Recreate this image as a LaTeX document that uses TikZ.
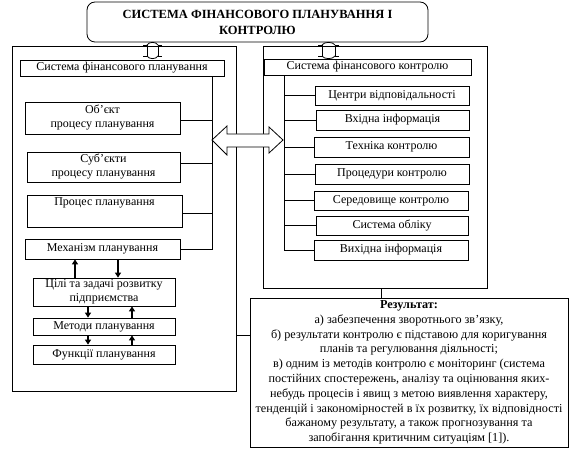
\documentclass[tikz,border=0pt]{standalone}
\usepackage{fontspec}
\setmainfont{Liberation Serif}
\usetikzlibrary{arrows.meta}
\begin{document}
\begin{tikzpicture}[x=1pt,y=-1pt,line width=0.8pt,
  txt/.style={font=\fontsize{12}{14}\selectfont},
  box/.style={draw,rectangle,inner sep=0pt,align=center,txt},
  arr/.style={line width=1.4pt,-{Triangle[length=5pt,width=6pt,fill=black]}},
  blk/.style={draw,fill=white,line join=miter}]
\useasboundingbox (0,0) rectangle (573,457);
% title
\node[box,minimum width=341pt,minimum height=40pt,rounded corners=8pt,
  font=\bfseries\fontsize{12.5}{16}\selectfont] (title) at (257.5,22)
  {СИСТЕМА ФІНАНСОВОГО ПЛАНУВАННЯ І\\КОНТРОЛЮ};
% big boxes
\node[box,minimum width=224pt,minimum height=345pt] (L) at (124,218.5) {};
\node[box,minimum width=224pt,minimum height=242pt] (R) at (375,167) {};
% left inner
\node[box,minimum width=204pt,minimum height=16pt] (lt) at (122,68) {Система фінансового планування};
\node[box,minimum width=155pt,minimum height=32pt] (obj) at (102.5,118) {Об’єкт\\процесу планування};
\node[box,minimum width=153pt,minimum height=30pt] (sub) at (103.5,167) {Суб’єкти\\процесу планування};
\node[box,minimum width=155pt,minimum height=32pt] (proc) at (104.5,211) {Процес планування\\\strut};
\node[box,minimum width=155pt,minimum height=20pt] (mech) at (102.5,249) {Механізм планування};
\node[box,minimum width=142pt,minimum height=28pt] (goal) at (104,292) {Цілі та задачі розвитку\\підприємства};
\node[box,minimum width=142pt,minimum height=17pt] (meth) at (104,326.5) {Методи планування};
\node[box,minimum width=142pt,minimum height=19pt] (func) at (104,354.5) {Функції планування};
% right inner
\node[box,minimum width=207pt,minimum height=16pt] (rt) at (367.5,67) {Система фінансового контролю};
\node[box,minimum width=154pt,minimum height=19pt] (c1) at (392,95.5) {Центри відповідальності};
\node[box,minimum width=153pt,minimum height=20pt] (c2) at (392.5,120) {Вхідна інформація};
\node[box,minimum width=155pt,minimum height=20pt] (c3) at (391.5,147) {Техніка контролю};
\node[box,minimum width=154pt,minimum height=20pt] (c4) at (392,174) {Процедури контролю};
\node[box,minimum width=154pt,minimum height=19pt] (c5) at (391,200.5) {Середовище контролю};
\node[box,minimum width=152pt,minimum height=19pt] (c6) at (392,225.5) {Система обліку};
\node[box,minimum width=154pt,minimum height=20pt] (c7) at (391,250) {Вихідна інформація};
% result
\node[box,minimum width=318pt,minimum height=149pt,font=\fontsize{12.2}{14.8}\selectfont] (res) at (409,372.5)
 {\textbf{Результат:}\\
 а) забезпечення зворотнього зв’язку,\\
 б) результати контролю є підставою для коригування\\
 планів та регулювання діяльності;\\
 в) одним із методів контролю є моніторинг (система\\
 постійних спостережень, аналізу та оцінювання яких-\\
 небудь процесів і явищ з метою виявлення характеру,\\
 тенденцій і закономірностей в їх розвитку, їх відповідності\\
 бажаному результату, а також прогнозування та\\
 запобігання критичним ситуаціям [1]).};
% left spine
\coordinate (ls) at (212,0);
\draw (lt.south -| ls) -- (mech.east -| ls) -- (mech.east);
\draw (obj.east) ++(0,2) -- ++(32,0);
\draw (sub.east) ++(0,-4) -- ++(32,0);
\draw (proc.east) ++(0,2) -- (ls |- 0,213);
% right spine
\coordinate (rs) at (284,0);
\draw (rt.south -| rs) -- (c7.west -| rs) -- (c7.west);
\foreach \n in {c1,c2,c3,c4,c5,c6} \draw (\n.west -| rs) -- (\n.west);
% result connectors
\coordinate (rc) at (381,0);
\draw (R.south -| rc) -- (res.north -| rc);
\draw (L.east |- 0,335) -- (res.west |- 0,335);
% arrows left
\draw[arr] (goal.north -| 75,0) -- (mech.south -| 75,0);
\draw[arr] (mech.south -| 118,0) -- (goal.north -| 118,0);
\draw[arr] (goal.south -| 88,0) -- (meth.north -| 88,0);
\draw[arr] (meth.north -| 132,0) -- (goal.south -| 132,0);
\draw[arr] (meth.south -| 88,0) -- (func.north -| 88,0);
\draw[arr] (func.north -| 132,0) -- (meth.south -| 132,0);
% double block arrow
\draw[blk] (212,140) -- (227,126) -- (227,134) -- (269,134) -- (269,127) -- (283,140)
  -- (269,153) -- (269,147) -- (227,147) -- (227,155) -- cycle;
% small top connectors
\foreach \a/\b in {147/158,322/335}{
  \draw (\a-4,45) -- (\a,45) -- (\a,56) -- (\a-4,56);
  \draw (\b+4,45) -- (\b,45) -- (\b,56) -- (\b+4,56);
  \draw (\a,45) .. controls (\a+2,41.5) and (\b-2,41.5) .. (\b,45);
  \draw (\a,56) .. controls (\a+2,59.5) and (\b-2,59.5) .. (\b,56);
}
\end{tikzpicture}
\end{document}
